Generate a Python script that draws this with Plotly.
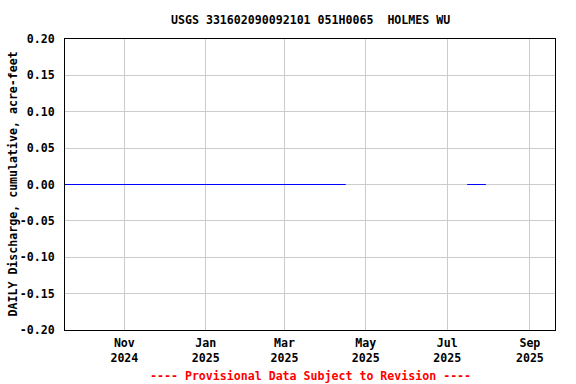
import plotly.graph_objects as go

# Data (daily cumulative discharge, acre-feet)
dates = ["2024-09-17", "2025-04-16", None, "2025-07-16", "2025-07-30"]
values = [0.0, 0.0, None, 0.0, 0.0]

tick_dates = ["2024-11-01", "2025-01-01", "2025-03-01", "2025-05-01", "2025-07-01", "2025-09-01"]
tick_labels = ["Nov<br>2024", "Jan<br>2025", "Mar<br>2025", "May<br>2025", "Jul<br>2025", "Sep<br>2025"]
y_ticks = [-0.20, -0.15, -0.10, -0.05, 0.00, 0.05, 0.10, 0.15, 0.20]

title_text = "USGS 331602090092101 051H0065\u00a0\u00a0HOLMES WU"
y_title = "DAILY Discharge, cumulative, acre-feet"
footer = "---- Provisional Data Subject to Revision ----"

FONT = "DejaVu Sans Mono"
fs = 11.6

fig = go.Figure()
fig.add_trace(go.Scatter(x=dates, y=values, mode="lines",
                         line=dict(color="#0000ff", width=1), connectgaps=False,
                         hoverinfo="skip", showlegend=False))

fig.update_layout(
    width=576, height=384,
    margin=dict(l=65, r=21, t=39, b=54),
    paper_bgcolor="white", plot_bgcolor="white",
    font=dict(family=FONT, size=fs, color="black", weight="bold"),
    showlegend=False,
)

fig.update_xaxes(
    type="date",
    range=["2024-09-17 12:00", "2025-09-19 20:00"],
    tickvals=tick_dates, ticktext=tick_labels,
    showgrid=True, gridcolor="#cccccc", gridwidth=1,
    showline=True, linecolor="black", linewidth=1, mirror=True,
    ticks="", zeroline=False, ticklabelstandoff=2,
    tickfont=dict(family=FONT, size=fs, color="black", weight="bold"),
)
fig.update_yaxes(
    range=[-0.2, 0.2],
    tickvals=y_ticks, ticktext=[f"{v:.2f}" for v in y_ticks],
    showgrid=True, gridcolor="#cccccc", gridwidth=1,
    showline=True, linecolor="black", linewidth=1, mirror=True,
    ticks="", zeroline=False, ticklabelstandoff=7,
    tickfont=dict(family=FONT, size=fs, color="black", weight="bold"),
)

fig.add_annotation(text=title_text, xref="paper", yref="paper", x=0.5, y=1,
                   yshift=19, xanchor="center", yanchor="middle", showarrow=False,
                   font=dict(family=FONT, size=fs, color="black", weight="bold"))
fig.add_annotation(text=y_title, xref="paper", yref="paper", x=0, y=0.5,
                   xshift=-53, xanchor="center", yanchor="middle", textangle=-90,
                   showarrow=False,
                   font=dict(family=FONT, size=fs, color="black", weight="bold"))
fig.add_annotation(text=footer, xref="paper", yref="paper", x=0.5, y=0,
                   yshift=-46, xanchor="center", yanchor="middle", showarrow=False,
                   font=dict(family=FONT, size=fs, color="#ff0000", weight="bold"))

fig.write_html("out.html", config={"displayModeBar": False},
               post_script="document.body.style.margin='0';document.body.style.overflow='hidden';")
